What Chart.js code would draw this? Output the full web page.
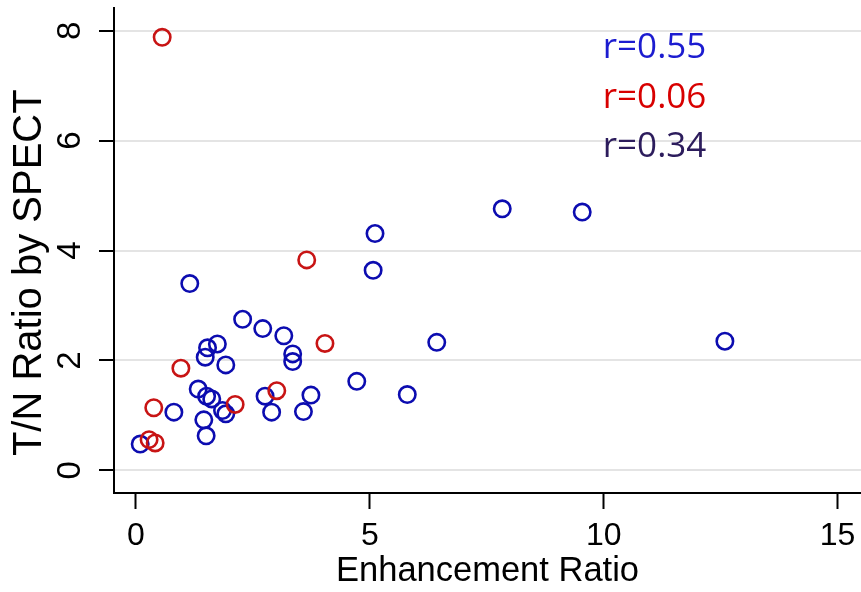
<!DOCTYPE html>
<html><head><meta charset="utf-8">
<script src="https://cdn.jsdelivr.net/npm/chart.js@4/dist/chart.umd.min.js"></script>
<style>html,body{margin:0;padding:0;background:#fff;overflow:hidden;} canvas{display:block;}</style>
</head><body><canvas id="c" width="861" height="592"></canvas>
<script>
const xTickValues = [0, 5, 10, 15];
const yTickValues = [0, 2, 4, 6, 8];
const xTitle = 'Enhancement Ratio';
const yTitle = 'T/N Ratio by SPECT';

const blueX = [0.09, 0.81, 1.15, 1.33, 1.45, 1.50, 1.48, 1.53, 1.74, 1.51, 1.62, 1.85, 1.92, 1.92, 2.28, 2.71, 2.76, 2.90, 3.16, 3.35, 3.35, 3.58, 3.74, 4.72, 5.07, 5.11, 5.80, 6.43, 7.83, 9.54, 12.59];
const blueY = [0.48, 1.06, 3.40, 1.48, 0.92, 0.63, 2.06, 2.23, 2.30, 1.35, 1.30, 1.09, 1.03, 1.92, 2.75, 2.58, 1.35, 1.06, 2.45, 2.12, 1.98, 1.07, 1.37, 1.62, 3.64, 4.31, 1.38, 2.33, 4.76, 4.70, 2.35];
const redX = [0.56, 3.65, 4.04, 0.96, 3.01, 2.12, 0.38, 0.28, 0.41];
const redY = [7.88, 3.83, 2.31, 1.86, 1.45, 1.20, 1.14, 0.56, 0.50];

const rLabels = ['r=0.55', 'r=0.06', 'r=0.34'];
const rColors = ['#1c1cd0', '#d80000', '#2c1c5c'];

const toPts = (xs, ys) => xs.map((x, i) => ({ x: x, y: ys[i] }));

const rPlugin = {
  id: 'rtext',
  afterDraw(chart) {
    const ctx = chart.ctx, xs = chart.scales.x, ys = chart.scales.y;
    const yPos = [7.69, 6.78, 5.89];
    ctx.save();
    ctx.font = '35px "Open Sans"';
    ctx.textAlign = 'left';
    ctx.textBaseline = 'middle';
    rLabels.forEach((t, i) => {
      ctx.fillStyle = rColors[i];
      ctx.fillText(t, xs.getPixelForValue(9.98), ys.getPixelForValue(yPos[i]));
    });
    ctx.restore();
  }
};

const bgPlugin = {
  id: 'bg',
  beforeDraw(chart) {
    const ctx = chart.ctx;
    ctx.save(); ctx.fillStyle = '#fff'; ctx.fillRect(0, 0, chart.width, chart.height); ctx.restore();
  }
};

new Chart(document.getElementById('c'), {
  type: 'scatter',
  data: {
    datasets: [
      { label: 'red', data: toPts(redX, redY), borderColor: '#c81414', backgroundColor: 'rgba(0,0,0,0)', pointRadius: 8.2, pointBorderWidth: 2.6, pointHoverRadius: 8.2 },
      { label: 'blue', data: toPts(blueX, blueY), borderColor: '#0c0cb0', backgroundColor: 'rgba(0,0,0,0)', pointRadius: 8.2, pointBorderWidth: 2.6, pointHoverRadius: 8.2 }
    ]
  },
  options: {
    responsive: false,
    animation: false,
    devicePixelRatio: 1,
    layout: { autoPadding: false, padding: { top: 8, left: 0, right: 0, bottom: 0 } },
    plugins: { legend: { display: false }, tooltip: { enabled: false } },
    scales: {
      x: {
        type: 'linear',
        min: -0.47, max: 15.5,
        afterBuildTicks: s => { s.ticks = xTickValues.map(v => ({ value: v })); },
        afterFit: s => { s.height = 99; s.paddingLeft = 0; s.paddingRight = 0; },
        border: { display: true, color: '#000', width: 2 },
        grid: { drawOnChartArea: false, drawTicks: true, tickLength: 16, tickColor: '#000', tickWidth: 2, color: '#000' },
        ticks: { color: '#000', font: { family: 'Liberation Sans', size: 32 }, padding: 8, maxRotation: 0, minRotation: 0 },
        title: { display: true, text: xTitle, color: '#000', font: { family: 'Liberation Sans', size: 34.5, lineHeight: 1.2 }, padding: { top: 0, bottom: 0 } }
      },
      y: {
        type: 'linear',
        min: -0.411, max: 8.413,
        afterBuildTicks: s => { s.ticks = yTickValues.map(v => ({ value: v })); },
        afterFit: s => { s.width = 114; s.paddingTop = 0; s.paddingBottom = 0; s.paddingLeft = 0; s.paddingRight = 0; },
        border: { display: true, color: '#000', width: 2 },
        grid: { drawOnChartArea: true, drawTicks: true, tickLength: 15, color: '#e4e4e4', lineWidth: 2, tickColor: '#000', tickWidth: 2 },
        ticks: { color: '#000', font: { family: 'Liberation Sans', size: 33 }, padding: 19, minRotation: 90, maxRotation: 90, crossAlign: 'center' },
        title: { display: true, text: yTitle + '    ', color: '#000', font: { family: 'Liberation Sans', size: 40, lineHeight: 1.2 }, padding: { top: 6, bottom: 0 } }
      }
    }
  },
  plugins: [bgPlugin, rPlugin]
});
</script>
</body></html>
